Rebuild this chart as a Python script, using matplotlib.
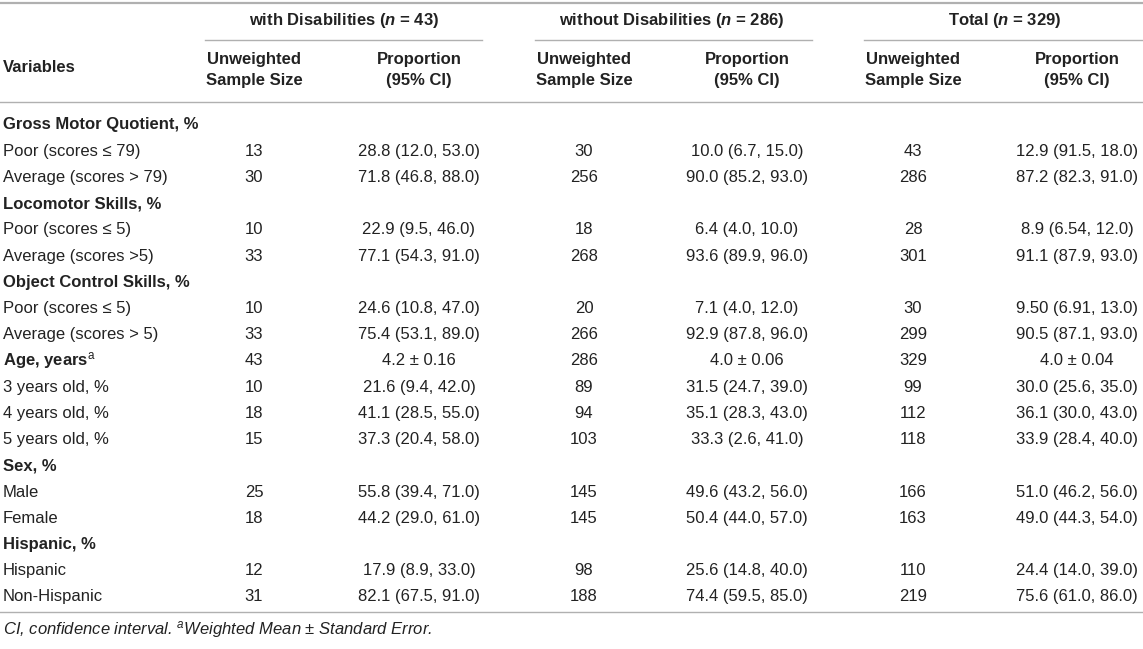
import matplotlib.pyplot as plt

plt.rcParams['font.family'] = ['Liberation Sans', 'DejaVu Sans']
plt.rcParams['mathtext.fontset'] = 'custom'
plt.rcParams['mathtext.rm'] = 'Liberation Sans'
plt.rcParams['mathtext.it'] = 'Liberation Sans:italic'
plt.rcParams['mathtext.bf'] = 'Liberation Sans:bold'
plt.rcParams['mathtext.bfit'] = 'Liberation Sans:italic:bold'

# Datos de la tabla
groups = [r"with Disabilities ($\mathbfit{n}$ = 43)",
          r"without Disabilities ($\mathbfit{n}$ = 286)",
          r"Total ($\mathbfit{n}$ = 329)"]
sub_headers = ["Unweighted\nSample Size", "Proportion\n(95% CI)"]

labels = ["Gross Motor Quotient, %", "Poor (scores ≤ 79)", "Average (scores > 79)",
          "Locomotor Skills, %", "Poor (scores ≤ 5)", "Average (scores >5)",
          "Object Control Skills, %", "Poor (scores ≤ 5)", "Average (scores > 5)",
          r"Age, years$^{\mathrm{a}}$", "3 years old, %", "4 years old, %", "5 years old, %",
          "Sex, %", "Male", "Female",
          "Hispanic, %", "Hispanic", "Non-Hispanic"]
bold_rows = [0, 3, 6, 9, 13, 16]

with_n = ["", "13", "30", "", "10", "33", "", "10", "33", "43", "10", "18", "15",
          "", "25", "18", "", "12", "31"]
with_p = ["", "28.8 (12.0, 53.0)", "71.8 (46.8, 88.0)", "", "22.9 (9.5, 46.0)",
          "77.1 (54.3, 91.0)", "", "24.6 (10.8, 47.0)", "75.4 (53.1, 89.0)",
          "4.2 ± 0.16", "21.6 (9.4, 42.0)", "41.1 (28.5, 55.0)", "37.3 (20.4, 58.0)",
          "", "55.8 (39.4, 71.0)", "44.2 (29.0, 61.0)", "", "17.9 (8.9, 33.0)",
          "82.1 (67.5, 91.0)"]
without_n = ["", "30", "256", "", "18", "268", "", "20", "266", "286", "89", "94", "103",
             "", "145", "145", "", "98", "188"]
without_p = ["", "10.0 (6.7, 15.0)", "90.0 (85.2, 93.0)", "", "6.4 (4.0, 10.0)",
             "93.6 (89.9, 96.0)", "", "7.1 (4.0, 12.0)", "92.9 (87.8, 96.0)",
             "4.0 ± 0.06", "31.5 (24.7, 39.0)", "35.1 (28.3, 43.0)", "33.3 (2.6, 41.0)",
             "", "49.6 (43.2, 56.0)", "50.4 (44.0, 57.0)", "", "25.6 (14.8, 40.0)",
             "74.4 (59.5, 85.0)"]
total_n = ["", "43", "286", "", "28", "301", "", "30", "299", "329", "99", "112", "118",
           "", "166", "163", "", "110", "219"]
total_p = ["", "12.9 (91.5, 18.0)", "87.2 (82.3, 91.0)", "", "8.9 (6.54, 12.0)",
           "91.1 (87.9, 93.0)", "", "9.50 (6.91, 13.0)", "90.5 (87.1, 93.0)",
           "4.0 ± 0.04", "30.0 (25.6, 35.0)", "36.1 (30.0, 43.0)", "33.9 (28.4, 40.0)",
           "", "51.0 (46.2, 56.0)", "49.0 (44.3, 54.0)", "", "24.4 (14.0, 39.0)",
           "75.6 (61.0, 86.0)"]

footnote = r"CI, confidence interval. $^{\mathit{a}}$Weighted Mean ± Standard Error."

# Layout (en pixeles)
W, H = 1143, 649
txt = '#222222'
line_c = '#b0b0b0'
fs = 12
group_cx = [344, 672, 1005]
group_line = [(205, 482), (535, 812), (864, 1143)]
n_cx = [254, 584, 913]
p_cx = [419, 747, 1077]
row_y0, row_dy = 125, 26.22

fig = plt.figure(figsize=(W / 100, H / 100), dpi=100)
ax = fig.add_axes([0, 0, 1, 1])
ax.set_xlim(0, W)
ax.set_ylim(H, 0)
ax.axis('off')

# lineas
ax.plot([0, W], [3, 3], color=line_c, lw=1.6)
for x0, x1 in group_line:
    ax.plot([x0, x1], [40, 40], color=line_c, lw=1.0)
ax.plot([0, W], [102, 102], color=line_c, lw=1.0)
ax.plot([0, W], [612, 612], color=line_c, lw=1.0)

# encabezados
for g, cx in zip(groups, group_cx):
    ax.text(cx, 21, g, ha='center', va='center', fontsize=fs, fontweight='bold', color=txt)
ax.text(3, 68, "Variables", ha='left', va='center', fontsize=fs, fontweight='bold', color=txt)
for i in range(3):
    ax.text(n_cx[i], 70, sub_headers[0], ha='center', va='center', fontsize=fs,
            fontweight='bold', color=txt, linespacing=1.45)
    ax.text(p_cx[i], 70, sub_headers[1], ha='center', va='center', fontsize=fs,
            fontweight='bold', color=txt, linespacing=1.45)

# filas
cols = [with_n, with_p, without_n, without_p, total_n, total_p]
col_x = [n_cx[0], p_cx[0], n_cx[1], p_cx[1], n_cx[2], p_cx[2]]
for r, lab in enumerate(labels):
    y = row_y0 + r * row_dy
    w = 'bold' if r in bold_rows else 'normal'
    ax.text(3, y, lab, ha='left', va='center', fontsize=fs, fontweight=w, color=txt)
    for col, x in zip(cols, col_x):
        if col[r]:
            ax.text(x, y, col[r], ha='center', va='center', fontsize=fs, color=txt)

ax.text(3, 630, footnote, ha='left', va='center', fontsize=fs,
        style='italic', color=txt)

fig.savefig('out.png', dpi=100)
